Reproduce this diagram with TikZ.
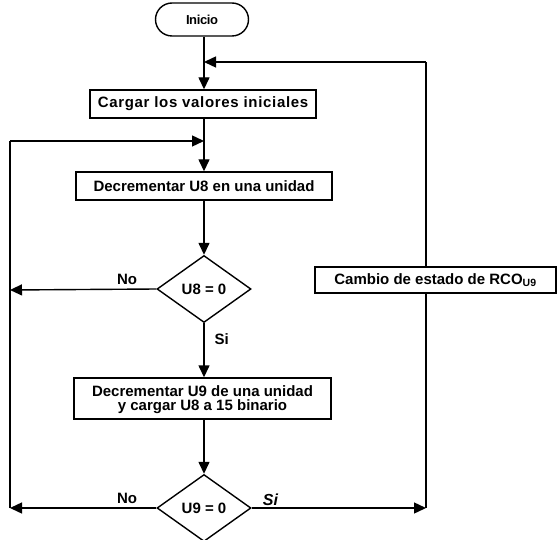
\documentclass[tikz,border=0pt]{standalone}
\usepackage{fontspec}
\setmainfont{Liberation Sans}
\usetikzlibrary{arrows.meta,shapes.geometric,shapes.misc}
\begin{document}
\begin{tikzpicture}[x=1pt,y=-1pt,
  line width=1.4pt,
  font=\bfseries\fontsize{15}{17}\selectfont,
  arr/.style={-{Triangle[length=12pt,width=11pt]}},
  box/.style={draw,fill=white,rectangle,inner sep=0pt,align=center},
  dec/.style={draw,diamond,inner sep=0pt,minimum width=94pt,minimum height=67pt},
  term/.style={draw,rounded rectangle,inner sep=0pt,minimum width=93pt,minimum height=33pt},
  lbl/.style={inner sep=0pt}]
\useasboundingbox (0,0) rectangle (557,540);
\node[term,font=\bfseries\fontsize{13}{15}\selectfont] (ini) at (202,19.5) {\addfontfeature{LetterSpace=-3}Inicio};
\node[box,minimum width=226pt,minimum height=28pt] (carg) at (203,104) {\addfontfeature{LetterSpace=4.5}Cargar los valores iniciales};
\node[box,minimum width=256pt,minimum height=28pt] (d8box) at (204,186) {Decrementar U8 en una unidad};
\node[dec] (d8) at (204,289) {U8 = 0};
\node[box,minimum width=257pt,minimum height=41pt,text depth=0pt] (d9box) at (202.5,398.5) {Decrementar U9 de una unidad\\[-3pt] y cargar U8 a 15 binario};
\node[dec] (d9) at (204,508) {U9 = 0};
\coordinate (j1) at (204,62);
\coordinate (j2) at (204,141);
\coordinate (l8) at (10,290);
\coordinate (l9) at (10,508);
\coordinate (r9) at (426,508);
\coordinate (rtop) at (426,62);
\coordinate (ltop) at (10,141);
\draw[arr] (j1 |- ini.south) -- (j1 |- carg.north);
\draw[arr] (j1 |- carg.south) -- (d8box.north);
\draw[arr] (d8box.south) -- (d8.north);
\draw[arr] (d8.south) -- node[lbl,right=10pt,pos=0.3] (si1) {Si} (d8.south |- d9box.north);
\draw[arr] (d8.south |- d9box.south) -- (d9.north);
\draw[arr] (d8.west) -- node[lbl,above=4pt,pos=0.2] (no1) {No} (l8);
\draw[arr] (d9.west) -- node[lbl,above=4pt,pos=0.2] (no2) {No} (l9);
\draw[arr] (d9.east) -- node[lbl,above=2pt,pos=0.06,anchor=south west,font=\bfseries\itshape\fontsize{16}{17}\selectfont] (si2) {Si} (r9);
\draw (r9) -- (rtop);
\draw[arr] (rtop) -- (j1);
\draw (l9) -- (ltop);
\draw[arr] (ltop) -- (j2);
\node[box,minimum width=241pt,minimum height=26pt] (camb) at (435.5,280) {Cambio de estado de RCO\textsubscript{U9}};
\end{tikzpicture}
\end{document}
